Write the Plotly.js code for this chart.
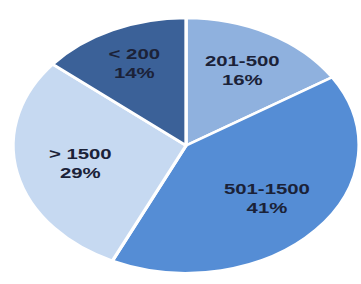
<!DOCTYPE html>
<html>
<head>
<meta charset="utf-8">
<script src="https://cdn.plot.ly/plotly-3.0.1.min.js"></script>
<style>
html,body{margin:0;padding:0;overflow:hidden;background:#fff;width:361px;height:284px;}
#chart{width:270px;height:284px;transform:scaleX(1.357);transform-origin:0 0;}
</style>
</head>
<body>
<div id="chart"></div>
<script>
var categories = ["201-500", "501-1500", "> 1500", "< 200"];
var shares = [16, 41, 29, 14];
var colors = ["#8FB1DE", "#558DD5", "#C6D9F1", "#3B6198"];
// radial position of each label (fraction of radius) - layout only
var labelRadius = [0.67, 0.625, 0.63, 0.71];

var W = 270, H = 284;
var dom = {x: [0.0356, 0.98], y: [0.0387, 0.9366]};

var trace = {
  type: "pie",
  labels: categories,
  values: shares,
  sort: false,
  direction: "clockwise",
  rotation: 0,
  marker: {colors: colors, line: {color: "#ffffff", width: 2.5}},
  textinfo: "none",
  hoverinfo: "none",
  domain: dom
};

// label positions derived from the data (slice mid-angles)
var total = shares.reduce(function(a, b){ return a + b; }, 0);
var cx = (dom.x[0] + dom.x[1]) / 2 * W;
var cy = (1 - (dom.y[0] + dom.y[1]) / 2) * H;
var R = Math.min((dom.x[1] - dom.x[0]) * W, (dom.y[1] - dom.y[0]) * H) / 2;
var annotations = [];
var cum = 0;
for (var i = 0; i < shares.length; i++) {
  var mid = (cum + shares[i] / 2) / total * 2 * Math.PI;
  cum += shares[i];
  var px = cx + R * labelRadius[i] * Math.sin(mid);
  var py = cy - R * labelRadius[i] * Math.cos(mid);
  annotations.push({
    xref: "paper", yref: "paper",
    x: px / W, y: 1 - py / H,
    xanchor: "center", yanchor: "middle",
    showarrow: false,
    text: categories[i] + "<br>" + Math.round(shares[i] / total * 100) + "%",
    font: {family: "Liberation Sans, Arial, sans-serif", size: 15, color: "#1b2238", weight: "bold"}
  });
}

var layout = {
  width: W,
  height: H,
  margin: {l: 0, r: 0, t: 0, b: 0},
  showlegend: false,
  paper_bgcolor: "#ffffff",
  annotations: annotations
};

Plotly.newPlot("chart", [trace], layout, {displayModeBar: false, staticPlot: true});
</script>
</body>
</html>
